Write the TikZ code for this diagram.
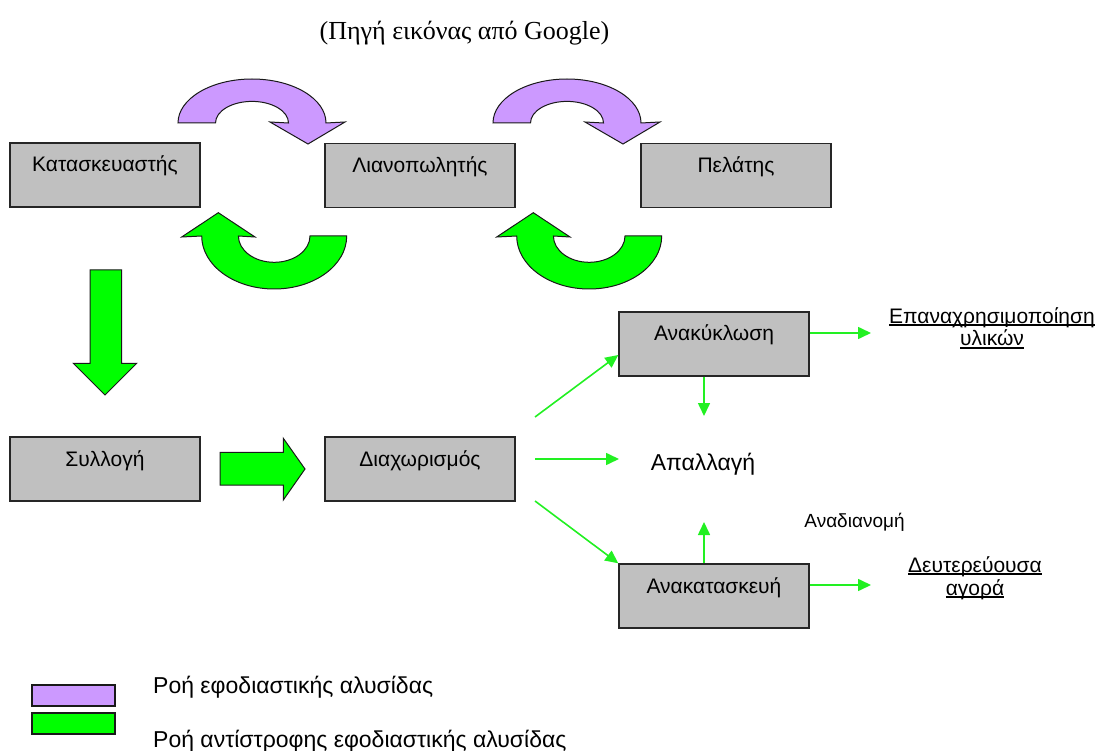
\documentclass[tikz,border=0pt]{standalone}
\usepackage{fontspec}
\setmainfont{Liberation Sans}
\newfontfamily\captionserif{Liberation Serif}
\usetikzlibrary{arrows.meta}
\definecolor{boxgray}{HTML}{C0C0C0}
\definecolor{fwdpurple}{HTML}{CC99FF}
\definecolor{revgreen}{HTML}{00FF00}
\definecolor{flowgreen}{HTML}{22F022}
% underline drawn just below the baseline, through the descenders
\newcommand\ulabel[1]{\setbox0\hbox{#1}\rlap{\rule[-2.6pt]{\wd0}{1.4pt}}\box0}
\begin{document}
\begin{tikzpicture}[x=1pt,y=-1pt,
  stage/.style={draw=black!85, line width=1.4pt, fill=boxgray,
    minimum width=190pt, minimum height=64pt, inner sep=0pt,
    font=\fontsize{21}{23}\selectfont, text height=15pt, text depth=21pt},
  fwdarrow/.style={draw=black!90, line width=1pt, fill=fwdpurple},
  revarrow/.style={draw=black!90, line width=1pt, fill=revgreen},
  flow/.style={draw=flowgreen, line width=1.6pt,
    -{Triangle[length=13pt,width=12pt]}},
  outcome/.style={font=\fontsize{21}{23}\selectfont, align=center, inner sep=0pt},
  legendtext/.style={font=\fontsize{23}{25}\selectfont, anchor=base west, inner sep=0pt}]

\useasboundingbox (0,0) rectangle (1098,751);

% source caption
\node[anchor=base, inner sep=0pt, font=\captionserif\fontsize{26}{28}\selectfont]
  (src) at (464.5,40) {(Πηγή εικόνας από Google)};

% stages
\node[stage] (kat)    at (105,175) {Κατασκευαστής};
\node[stage] (lian)   at (420,175.5) {Λιανοπωλητής};
\node[stage] (pel)    at (736,175.5) {Πελάτης};
\node[stage] (syl)    at (105,469) {Συλλογή};
\node[stage] (diax)   at (420,469) {Διαχωρισμός};
\node[stage] (anak)   at (714,344) {Ανακύκλωση};
\node[stage] (anakat) at (714,596) {Ανακατασκευή};

% forward flow (curved arrows above the chain)
\foreach \dx in {0,315}{
  \begin{scope}[xshift=\dx pt]
    \draw[fwdarrow] (178,123) arc[start angle=180, end angle=360, x radius=74, y radius=44]
      -- (345,122) -- (308,144) -- (270,122) -- (288.5,123)
      arc[start angle=0, end angle=-180, x radius=36.5, y radius=21.6] -- cycle;
  \end{scope}
}

% reverse flow (curved arrows below the chain)
\foreach \dx in {0,315}{
  \begin{scope}[xshift=\dx pt]
    \draw[revarrow] (346.7,236) arc[start angle=0, end angle=180, x radius=72.5, y radius=53]
      -- (181.7,237) -- (218.3,212.7) -- (255,237) -- (238.4,236)
      arc[start angle=180, end angle=0, x radius=35.8, y radius=26.3] -- cycle;
  \end{scope}
}

% block arrows of the return path
\draw[revarrow] (90,270) -- (121.7,270) -- (121.7,363.3) -- (136.7,363.3)
  -- (105,395) -- (73.3,363.3) -- (90,363.3) -- cycle;
\draw[revarrow] (220,452.3) -- (283.3,452.3) -- (283.3,438.3) -- (305,469)
  -- (283.3,500) -- (283.3,485) -- (220,485) -- cycle;

% outcomes
\node[anchor=base, inner sep=0pt, font=\fontsize{23}{26}\selectfont] (apal) at (703,470) {Απαλλαγή};
\node[anchor=base, inner sep=0pt, font=\fontsize{19}{21}\selectfont] (anad) at (854.5,527) {Αναδιανομή};
\node[outcome, anchor=base] (epan) at (992,346)
  {\ulabel{Επαναχρησιμοποίηση}\\\ulabel{υλικών}};
\node[outcome, anchor=base] (deut) at (975,595)
  {\ulabel{Δευτερεύουσα}\\\ulabel{αγορά}};

% thin flow connectors
\coordinate (o1) at (535,417);
\coordinate (o2) at (535,459);
\coordinate (o3) at (535,501);
\coordinate (e1) at (871,333);
\coordinate (e2) at (871,585);
\coordinate (d1) at (704,416);
\coordinate (u1) at (704,522);
\coordinate (a1) at (619,459);

\draw[flow] (o1) -- ([yshift=-11pt]anak.west);
\draw[flow] (o2) -- (a1);
\draw[flow] (o3) -- (anakat.north west);
\draw[flow] ([yshift=11pt]anak.east) -- (e1);
\draw[flow] ([yshift=11pt]anakat.east) -- (e2);
\draw[flow] ([xshift=-10pt]anak.south) -- (d1);
\draw[flow] ([xshift=-10pt]anakat.north) -- (u1);

% legend
\draw[fwdarrow, line width=1.2pt] (32,685) rectangle (115,706);
\draw[revarrow, line width=1.2pt] (32,713) rectangle (115,734);
\node[legendtext] (lg1) at (153,693) {Ροή εφοδιαστικής αλυσίδας};
\node[legendtext] (lg2) at (153,747) {Ροή αντίστροφης εφοδιαστικής αλυσίδας};
\end{tikzpicture}
\end{document}
